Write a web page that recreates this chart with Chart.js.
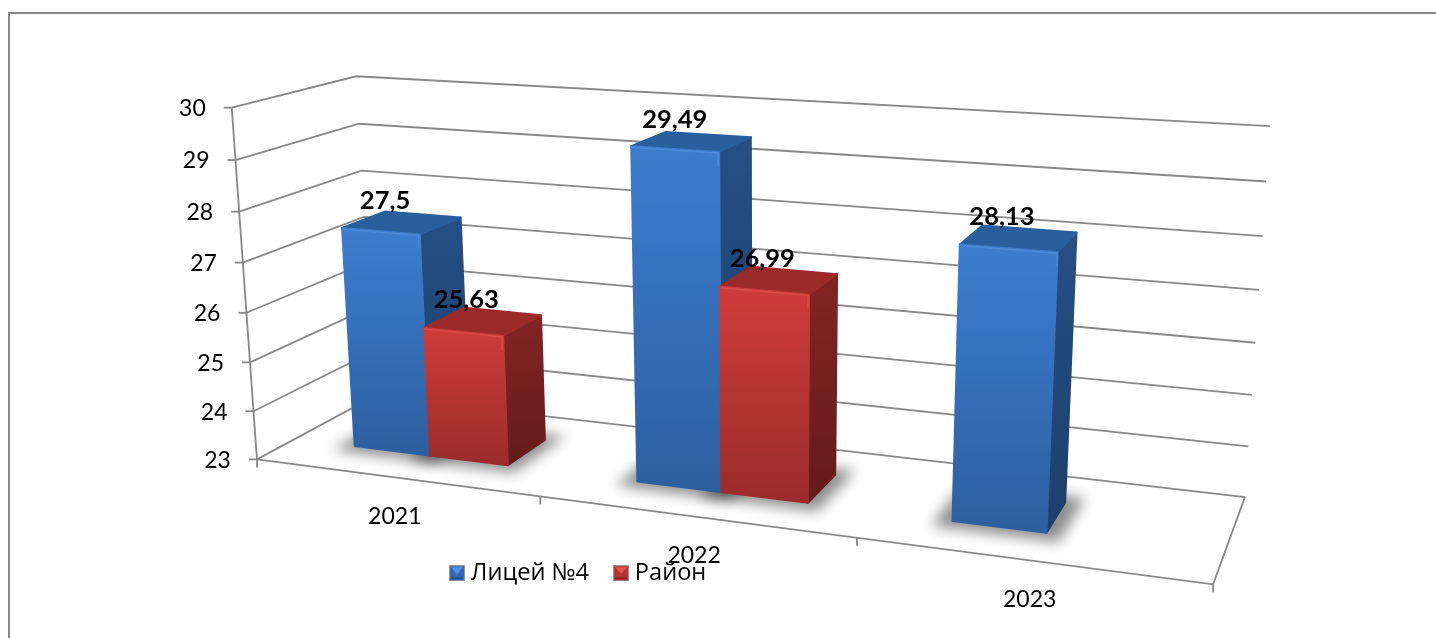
<!DOCTYPE html>
<html>
<head>
<meta charset="utf-8">
<title>Лицей №4 / Район</title>
<script src="https://cdn.jsdelivr.net/npm/chart.js@4"></script>
<style>
  html, body { margin: 0; padding: 0; background: #fff; }
  canvas { display: block; }
</style>
</head>
<body>
<canvas id="myChart" width="1436" height="638"></canvas>
<script>
const categories = ['2021', '2022', '2023'];
const litseyValues = [27.5, 29.49, 28.13];
const rayonValues = [25.63, 26.99, null];
const litseyLabels = ['27,5', '29,49', '28,13'];
const rayonLabels = ['25,63', '26,99', null];
const valueTicks = [23, 24, 25, 26, 27, 28, 29, 30];

// how the flat chart area sits in the 3d box: [across, depth, height] -> picture
const boxAnchors = [
    [0, 0, 0, 257, 460], [1, 0, 0, 1213, 583], [1, 1, 0, 1245, 498], [0, 1, 0, 374, 395],
    [0, 0, 1, 232, 107], [0, 1, 1, 356, 77], [1, 1, 1, 1270, 126],
    [1 / 3, 0, 0, 540, 497.5], [2 / 3, 0, 0, 857, 538]
];
const barDepthFront = 0.31;
const barDepthBack = 0.68;
const lineColor = '#888888';

const blue = { top: '#2a5f9e', frontA: '#3c7dcf', frontB: '#2c5f9f', sideA: '#264f85', sideB: '#1d3f6b', edge: 'rgba(120,170,235,0.3)' };
const red = { top: '#9b2b29', frontA: '#cf3c39', frontB: '#9a2c2b', sideA: '#822523', sideB: '#631b1a', edge: 'rgba(240,120,115,0.3)' };

function solveCamera(points) {
    const n = 11;
    const m = [];
    for (let i = 0; i < n; i++) m.push(new Array(n + 1).fill(0));
    const add = (row, rhs) => {
        for (let i = 0; i < n; i++) {
            for (let j = 0; j < n; j++) m[i][j] += row[i] * row[j];
            m[i][n] += row[i] * rhs;
        }
    };
    points.forEach(p => {
        const X = p[0], Y = p[1], Z = p[2], x = p[3] / 1000, y = p[4] / 1000;
        add([X, Y, Z, 1, 0, 0, 0, 0, -x * X, -x * Y, -x * Z], x);
        add([0, 0, 0, 0, X, Y, Z, 1, -y * X, -y * Y, -y * Z], y);
    });
    for (let c = 0; c < n; c++) {
        let best = c;
        for (let r = c + 1; r < n; r++) if (Math.abs(m[r][c]) > Math.abs(m[best][c])) best = r;
        [m[c], m[best]] = [m[best], m[c]];
        for (let r = 0; r < n; r++) {
            if (r == c) continue;
            const f = m[r][c] / m[c][c];
            for (let k = c; k <= n; k++) m[r][k] -= f * m[c][k];
        }
    }
    return m.map((row, i) => row[n] / row[i]);
}
const cam = solveCamera(boxAnchors);

function project(u, w, v) {
    const d = cam[8] * u + cam[9] * w + cam[10] * v + 1;
    return {
        x: 1000 * (cam[0] * u + cam[1] * w + cam[2] * v + cam[3]) / d,
        y: 1000 * (cam[4] * u + cam[5] * w + cam[6] * v + cam[7]) / d
    };
}

function pathOf(ctx, pts) {
    ctx.beginPath();
    pts.forEach((p, i) => i ? ctx.lineTo(p.x, p.y) : ctx.moveTo(p.x, p.y));
}

function strokeLine(ctx, pts) {
    pathOf(ctx, pts);
    ctx.stroke();
}

function face(ctx, pts, fill) {
    pathOf(ctx, pts);
    ctx.closePath();
    ctx.fillStyle = fill;
    ctx.fill();
    ctx.strokeStyle = fill;
    ctx.lineWidth = 2;
    ctx.lineJoin = 'round';
    ctx.stroke();
}

function vOf(chart, value) {
    const a = chart.chartArea;
    return (a.bottom - chart.scales.y.getPixelForValue(value)) / (a.bottom - a.top);
}

function barBoxes(chart) {
    const a = chart.chartArea;
    const boxes = [];
    chart.data.datasets.forEach((ds, di) => {
        chart.getDatasetMeta(di).data.forEach((el, i) => {
            if (ds.data[i] == null) return;
            boxes.push({
                u0: (el.x - el.width / 2 - a.left) / (a.right - a.left),
                u1: (el.x + el.width / 2 - a.left) / (a.right - a.left),
                v: (a.bottom - el.y) / (a.bottom - a.top),
                tone: ds.tone,
                text: ds.valueLabels[i]
            });
        });
    });
    return boxes.sort((p, q) => p.u0 - q.u0);
}

function drawWalls(chart) {
    const ctx = chart.ctx;
    ctx.save();
    ctx.strokeStyle = lineColor;
    // frame of the picture, runs off the right and bottom
    ctx.lineWidth = 2;
    strokeLine(ctx, [{ x: 9, y: 638 }, { x: 9, y: 13 }, { x: 1436, y: 13 }]);
    ctx.lineWidth = 1.8;
    valueTicks.forEach(t => {
        const v = vOf(chart, t);
        strokeLine(ctx, [project(0, 0, v), project(0, 1, v), project(1, 1, v)]);
        const p = project(0, 0, v);
        strokeLine(ctx, [p, { x: p.x - 8, y: p.y }]);
    });
    strokeLine(ctx, [project(0, 0, 0), project(1, 0, 0), project(1, 1, 0)]);
    strokeLine(ctx, [project(0, 0, 1), project(0, 0, 0)]);
    for (let i = 0; i <= categories.length; i++) {
        const p = project(i / categories.length, 0, 0);
        strokeLine(ctx, [p, { x: p.x, y: p.y + 8 }]);
    }
    ctx.restore();
}

function drawBar(ctx, b) {
    const w0 = barDepthFront, w1 = barDepthBack;
    const fl = project(b.u0, w0, 0), fr = project(b.u1, w0, 0), br = project(b.u1, w1, 0);
    const tl = project(b.u0, w0, b.v), tr = project(b.u1, w0, b.v);
    const kl = project(b.u0, w1, b.v), kr = project(b.u1, w1, b.v);
    const t = b.tone;

    const side = ctx.createLinearGradient(0, kr.y, 0, fr.y);
    side.addColorStop(0, t.sideA);
    side.addColorStop(1, t.sideB);
    face(ctx, [tr, kr, br, fr], side);
    face(ctx, [tl, kl, kr, tr], t.top);
    const front = ctx.createLinearGradient(0, tl.y, 0, fr.y);
    front.addColorStop(0, t.frontA);
    front.addColorStop(1, t.frontB);
    face(ctx, [tl, tr, fr, fl], front);

    // small bevel along the front edges
    ctx.strokeStyle = t.edge;
    ctx.lineWidth = 1.5;
    strokeLine(ctx, [{ x: tl.x, y: tl.y + 1 }, { x: tr.x - 1, y: tr.y + 1 }, { x: tr.x - 1, y: tr.y + 14 }]);
}

function drawShadow(ctx, b) {
    const m = 0.016, d = 0.08;
    ctx.save();
    ctx.filter = 'blur(7px)';
    pathOf(ctx, [
        project(b.u0 - m, barDepthFront - d, 0), project(b.u1 + m, barDepthFront - d, 0),
        project(b.u1 + m, barDepthBack + d, 0), project(b.u0 - m, barDepthBack + d, 0)
    ]);
    ctx.closePath();
    ctx.fillStyle = 'rgba(0,0,0,0.45)';
    ctx.fill();
    ctx.restore();
}

const box3d = {
    id: 'box3d',
    beforeDatasetsDraw(chart) {
        const ctx = chart.ctx;
        const boxes = barBoxes(chart);
        drawWalls(chart);
        boxes.forEach(b => drawShadow(ctx, b));
        boxes.forEach(b => drawBar(ctx, b));

        ctx.save();
        ctx.fillStyle = '#000';
        ctx.textBaseline = 'middle';
        ctx.font = '23px Lato';
        ctx.textAlign = 'right';
        valueTicks.forEach(t => {
            const p = project(0, 0, vOf(chart, t));
            ctx.fillText(String(t), p.x - 26, p.y + 1);
        });
        ctx.textAlign = 'center';
        chart.scales.x.getLabels().forEach((c, i) => {
            const p = project((i + 0.5) / categories.length, 0, 0);
            ctx.fillText(c, p.x, p.y + 39);
        });
        ctx.font = 'bold 25.5px Lato';
        boxes.forEach(b => {
            const p = project((b.u0 + b.u1) / 2, (barDepthFront + barDepthBack) / 2, b.v);
            ctx.fillText(b.text, p.x - 17, p.y - 22);
        });
        ctx.restore();
        return false; // the flat rectangles are replaced by the boxes above
    }
};

function legendBox(light, mid, dark) {
    const c = document.createElement('canvas');
    c.width = 16;
    c.height = 16;
    const g = c.getContext('2d');
    g.fillStyle = mid;
    g.fillRect(0, 0, 16, 16);
    g.fillStyle = light;
    g.beginPath();
    g.moveTo(2, 2);
    g.lineTo(14, 2);
    g.lineTo(8, 9);
    g.fill();
    g.fillStyle = dark;
    g.fillRect(2, 12, 12, 2);
    g.strokeStyle = '#9a9a9a';
    g.lineWidth = 1;
    g.strokeRect(0.5, 0.5, 15, 15);
    return c;
}
const legendBoxes = [legendBox('#4f93e6', '#3268ad', '#26528c'), legendBox('#e25552', '#b23230', '#8c2523')];

new Chart(document.getElementById('myChart').getContext('2d'), {
    type: 'bar',
    data: {
        labels: categories,
        datasets: [
            { label: 'Лицей №4', data: litseyValues, backgroundColor: '#3c7fd2', tone: blue, valueLabels: litseyLabels, barPercentage: 1, categoryPercentage: 0.555 },
            { label: 'Район', data: rayonValues, backgroundColor: '#d03c39', tone: red, valueLabels: rayonLabels, barPercentage: 1, categoryPercentage: 0.555 }
        ]
    },
    options: {
        responsive: false,
        animation: false,
        layout: { padding: { left: 425, bottom: 43 } },
        scales: {
            x: { display: false },
            y: { display: false, min: 23, max: 30 }
        },
        plugins: {
            tooltip: { enabled: false },
            legend: {
                position: 'bottom',
                align: 'start',
                labels: {
                    usePointStyle: true,
                    boxWidth: 4,
                    padding: 30,
                    color: '#000',
                    font: { family: 'Open Sans', size: 23.6 },
                    generateLabels: chart => chart.data.datasets.map((ds, i) => ({
                        text: ds.label,
                        pointStyle: legendBoxes[i],
                        datasetIndex: i,
                        fontColor: '#000'
                    }))
                }
            }
        }
    },
    plugins: [box3d]
});
</script>
</body>
</html>
